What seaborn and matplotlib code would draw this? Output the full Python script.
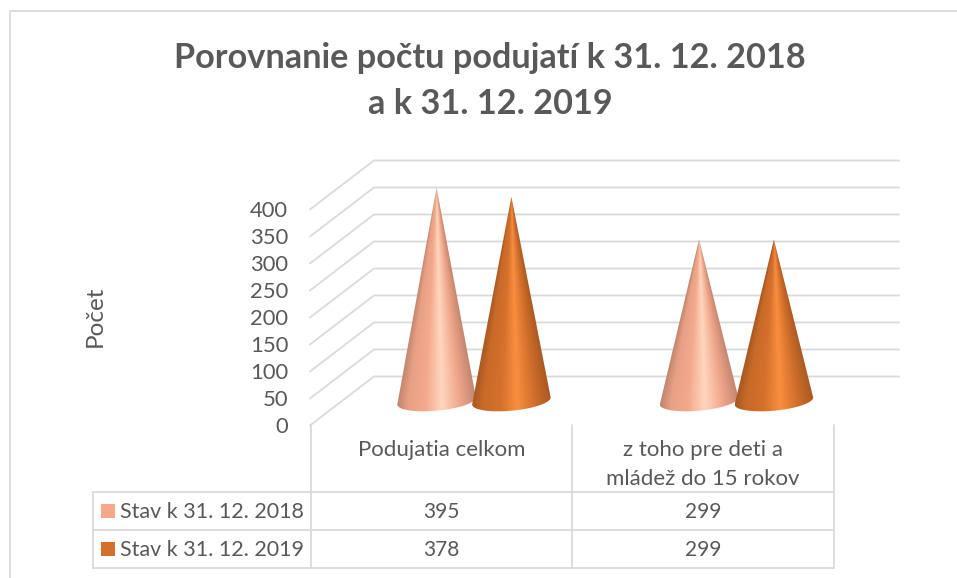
import numpy as np
import pandas as pd
import matplotlib
matplotlib.use("Agg")
import matplotlib.pyplot as plt
import seaborn as sns
from matplotlib.colors import LinearSegmentedColormap
from matplotlib.patches import PathPatch, Rectangle
from matplotlib.path import Path

categories = ["Podujatia celkom", "z toho pre deti a\nmládež do 15 rokov"]
series_names = ["Stav k 31. 12. 2018", "Stav k 31. 12. 2019"]
values_2018 = [395, 299]
values_2019 = [378, 299]
series_colors = ["#F4A98C", "#D4702B"]
highlights = ["#FFD6BE", "#F98E3F"]
y_ticks = [0, 50, 100, 150, 200, 250, 300, 350, 400]
title_text = "Porovnanie počtu podujatí k 31. 12. 2018\na k 31. 12. 2019"
y_label = "Počet"

W, H = 957, 578
GREY = "#DADADA"
TEXT = "#595959"

sns.set_theme(style="white")
plt.rcParams["font.family"] = ["Lato", "DejaVu Sans"]


def px_axes(fig, left, top, right, bottom, **kw):
    return fig.add_axes([left / W, 1 - bottom / H, (right - left) / W, (bottom - top) / H], **kw)


def shade(color, amount):
    rgb = np.array(matplotlib.colors.to_rgb(color))
    if amount < 0:
        return tuple(rgb * (1 + amount))
    return tuple(rgb + (1 - rgb) * amount)


fig = plt.figure(figsize=(W / 100, H / 100), dpi=100)
fig.patch.set_facecolor("white")

# the mid depth plane, where the cones stand
ax = px_axes(fig, 342.75, 185, 867.75, 401)
ax.patch.set_alpha(0)

df = pd.DataFrame({
    "cat": categories * 2,
    "series": [series_names[0]] * 2 + [series_names[1]] * 2,
    "value": values_2018 + values_2019,
})
sns.barplot(data=df, x="cat", y="value", hue="series", hue_order=series_names,
            palette=series_colors, width=0.57, gap=0, legend=False, ax=ax)
ax.set_xlim(-0.5, 1.5)
ax.set_ylim(0, 400)

# perspective gridlines: side wall and back wall
for v in y_ticks:
    ax.plot([-0.625, -0.381, 1.619], [v - 45.4, v + 45.4, v + 45.4], color=GREY, lw=1.3,
            clip_on=False, zorder=1)

# bars become cones
for k, cont in enumerate(ax.containers):
    stops = [(0.0, shade(series_colors[k], -0.22)), (0.14, shade(series_colors[k], -0.05)),
             (0.36, series_colors[k]), (0.57, highlights[k]),
             (0.80, shade(series_colors[k], -0.02)), (1.0, shade(series_colors[k], -0.20))]
    cmap = LinearSegmentedColormap.from_list("cone%d" % k, stops)
    for bar in cont:
        cx = bar.get_x() + bar.get_width() / 2
        v = bar.get_height()
        half = bar.get_width() * 0.525
        xs = np.linspace(cx - half, cx + half, 300)
        ys = np.linspace(v, -25, 500)
        X, Y = np.meshgrid(xs, ys)
        wid = half * np.clip(1 - Y / v, 1e-3, 1)
        u = np.clip((X - cx) / wid, -1, 1) * 0.5 + 0.5
        im = ax.imshow(cmap(u), extent=(xs[0], xs[-1], -25, v), aspect="auto",
                       interpolation="bilinear", zorder=3 + k)
        t = np.linspace(0, np.pi, 50)
        ex = cx + half * np.cos(t)
        ey = 6.5 * np.cos(t) - 18 * np.sin(t)
        verts = [(cx, v)] + list(zip(ex, ey)) + [(cx, v)]
        path = Path(verts)
        im.set_clip_box(fig.bbox)
        im.set_clip_path(PathPatch(path, transform=ax.transData))
    for bar in cont:
        bar.set_visible(False)
ax.set_xlim(-0.5, 1.5)
ax.set_ylim(0, 400)
ax.axis("off")

# front plane carries the axis text
ax_front = px_axes(fig, 310.5, 209, 834, 425)
ax_front.patch.set_alpha(0)
ax_front.set_xlim(-0.5, 1.5)
ax_front.set_ylim(0, 400)
ax_front.set_yticks(y_ticks)
ax_front.set_xticks([0, 1])
ax_front.set_xticklabels(categories, linespacing=1.57)
ax_front.tick_params(axis="y", length=0, pad=16, labelsize=15.8, labelcolor=TEXT)
ax_front.tick_params(axis="x", length=0, pad=11, labelsize=16, labelcolor=TEXT)
sns.despine(ax=ax_front, left=True, bottom=True)

# frame, title and data table in pixel coordinates
ov = fig.add_axes([0, 0, 1, 1], zorder=5)
ov.patch.set_alpha(0)
ov.set_xlim(0, W)
ov.set_ylim(H, 0)
ov.axis("off")
ov.plot([9.5, 9.5, 957], [578, 11, 11], color=GREY, lw=1.3)
ov.text(490, 81, title_text, ha="center", va="center", fontsize=24.7, fontweight="bold",
        color=TEXT, linespacing=1.52)
ov.text(95, 316, y_label, rotation=90, ha="center", va="center", fontsize=17.5, color=TEXT)

col_x = [310.5, 572, 834]
row_y = [492, 530, 568]
for x in col_x:
    ov.plot([x, x], [425, row_y[2]], color=GREY, lw=1.3)
ov.plot([93, 93], [row_y[0], row_y[2]], color=GREY, lw=1.3)
for y in row_y:
    ov.plot([93, col_x[2]], [y, y], color=GREY, lw=1.3)

for i, (name, vals) in enumerate(zip(series_names, [values_2018, values_2019])):
    yc = (row_y[i] + row_y[i + 1]) / 2
    ov.add_patch(Rectangle((101, yc - 7), 14, 14, color=series_colors[i], lw=0))
    ov.text(120, yc + 1, name, ha="left", va="center", fontsize=15.5, color=TEXT)
    for j, val in enumerate(vals):
        ov.text((col_x[j] + col_x[j + 1]) / 2, yc + 1, str(val), ha="center", va="center",
                fontsize=15, color=TEXT)

fig.savefig("out.png", dpi=100)
